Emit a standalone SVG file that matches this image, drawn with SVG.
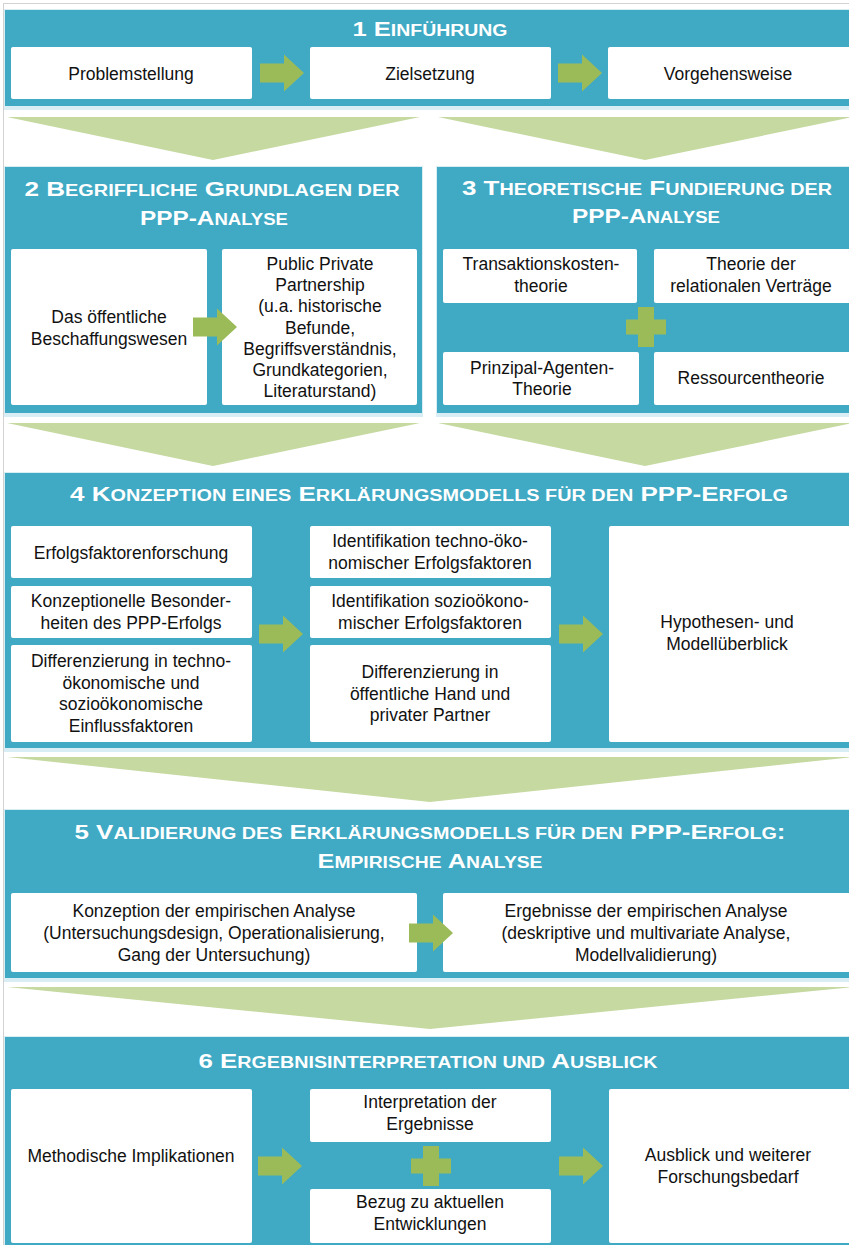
<svg xmlns="http://www.w3.org/2000/svg" xmlns:xlink="http://www.w3.org/1999/xlink" width="849" height="1245" viewBox="0 0 849 1245">
<style>
.sec{fill:#40a9c4}
.glow{fill:#d9eef4}
.box{fill:#ffffff}
.chev{fill:#c5d9a0}
.arr{fill:#9bbb59}
.t{font-family:"Liberation Sans",Arial,sans-serif;font-size:17.5px;fill:#111111;text-anchor:middle}
.h{font-family:"Liberation Sans",Arial,sans-serif;font-weight:bold;font-size:21px;fill:#ffffff;text-anchor:middle}
.sc{font-size:16px}
</style>
<defs>
<path id="arrow" d="M0,-9.5 H24 V-18.5 L44,0 L24,18.5 V9.5 H0 Z"/>
<path id="plus" d="M-8,-20 H8 V-7.5 H20 V7.5 H8 V20 H-8 V7.5 H-20 V-7.5 H-8 Z"/>
</defs>
<rect x="0" y="0" width="849" height="1245" fill="#ffffff"/>
<rect x="3.5" y="3.5" width="860" height="1260" fill="none" stroke="#d2d2d2" stroke-width="1"/>

<g id="sec1">
<rect class="glow" x="4" y="9" width="850" height="101"/>
<rect class="sec" x="5" y="10" width="848" height="96"/>
<text class="h" x="430" y="36" textLength="155" lengthAdjust="spacingAndGlyphs">1 E<tspan class="sc">INFÜHRUNG</tspan></text>
<g id="n-problemstellung"><rect class="box" x="11" y="47" width="241" height="52" rx="2"/><text class="t" x="131" y="80">Problemstellung</text></g>
<g id="n-zielsetzung"><rect class="box" x="310" y="47" width="241" height="52" rx="2"/><text class="t" x="430" y="80">Zielsetzung</text></g>
<g id="n-vorgehensweise"><rect class="box" x="608" y="47" width="245" height="52" rx="2"/><text class="t" x="728" y="80">Vorgehensweise</text></g>
</g>

<g id="sec2">
<rect class="glow" x="4" y="166" width="419" height="251"/>
<rect class="sec" x="5" y="167" width="417" height="246"/>
<text class="h" x="212" y="196" textLength="375" lengthAdjust="spacingAndGlyphs">2 B<tspan class="sc">EGRIFFLICHE</tspan>  G<tspan class="sc">RUNDLAGEN DER</tspan></text>
<text class="h" x="214" y="225" textLength="148" lengthAdjust="spacingAndGlyphs">PPP-A<tspan class="sc">NALYSE</tspan></text>
<g id="n-beschaffung"><rect class="box" x="11" y="249" width="196" height="156" rx="2"/><text class="t" x="109" y="323">Das öffentliche</text><text class="t" x="109" y="345">Beschaffungswesen</text></g>
<g id="n-ppp"><rect class="box" x="222" y="249" width="195" height="156" rx="2"/>
<text class="t" x="320" y="270">Public Private</text>
<text class="t" x="320" y="291.2">Partnership</text>
<text class="t" x="320" y="312.4">(u.a. historische</text>
<text class="t" x="320" y="333.6">Befunde,</text>
<text class="t" x="320" y="354.8">Begriffsverständnis,</text>
<text class="t" x="320" y="376">Grundkategorien,</text>
<text class="t" x="320" y="397.2">Literaturstand)</text></g>
</g>

<g id="sec3">
<rect class="glow" x="436" y="166" width="418" height="251"/>
<rect class="sec" x="437" y="167" width="416" height="246"/>
<text class="h" x="647" y="195" textLength="370" lengthAdjust="spacingAndGlyphs">3 T<tspan class="sc">HEORETISCHE</tspan> F<tspan class="sc">UNDIERUNG DER</tspan></text>
<text class="h" x="646" y="223" textLength="148" lengthAdjust="spacingAndGlyphs">PPP-A<tspan class="sc">NALYSE</tspan></text>
<g id="n-transaktion"><rect class="box" x="443" y="249" width="194" height="54" rx="2"/><text class="t" x="541" y="270">Transaktionskosten-</text><text class="t" x="541" y="292">theorie</text></g>
<g id="n-relational"><rect class="box" x="654" y="249" width="199" height="54" rx="2"/><text class="t" x="751" y="270">Theorie der</text><text class="t" x="751" y="292">relationalen Verträge</text></g>
<g id="n-prinzipal"><rect class="box" x="443" y="352" width="196" height="53" rx="2"/><text class="t" x="542" y="374">Prinzipal-Agenten-</text><text class="t" x="542" y="395">Theorie</text></g>
<g id="n-ressource"><rect class="box" x="654" y="352" width="199" height="53" rx="2"/><text class="t" x="751" y="384">Ressourcentheorie</text></g>
</g>

<g id="sec4">
<rect class="glow" x="4" y="472" width="850" height="280"/>
<rect class="sec" x="5" y="473" width="848" height="275"/>
<text class="h" x="429" y="501" textLength="718" lengthAdjust="spacingAndGlyphs">4 K<tspan class="sc">ONZEPTION  EINES</tspan>  E<tspan class="sc">RKLÄRUNGSMODELLS  FÜR  DEN</tspan>  PPP-E<tspan class="sc">RFOLG</tspan></text>
<g id="n-erfolgsfaktoren"><rect class="box" x="11" y="526" width="241" height="52" rx="2"/><text class="t" x="131" y="559">Erfolgsfaktorenforschung</text></g>
<g id="n-konzeptionelle"><rect class="box" x="11" y="586" width="241" height="52" rx="2"/><text class="t" x="131" y="607">Konzeptionelle Besonder-</text><text class="t" x="131" y="628.5">heiten des PPP-Erfolgs</text></g>
<g id="n-differenzierung1"><rect class="box" x="11" y="645" width="241" height="97" rx="2"/>
<text class="t" x="131" y="667">Differenzierung in techno-</text>
<text class="t" x="131" y="688.5">ökonomische und</text>
<text class="t" x="131" y="710">sozioökonomische</text>
<text class="t" x="131" y="731.5">Einflussfaktoren</text></g>
<g id="n-techno"><rect class="box" x="310" y="526" width="241" height="52" rx="2"/><text class="t" x="430" y="547">Identifikation techno-öko-</text><text class="t" x="430" y="568.5">nomischer Erfolgsfaktoren</text></g>
<g id="n-sozio"><rect class="box" x="310" y="586" width="241" height="52" rx="2"/><text class="t" x="430" y="607">Identifikation sozioökono-</text><text class="t" x="430" y="628.5">mischer Erfolgsfaktoren</text></g>
<g id="n-differenzierung2"><rect class="box" x="310" y="645" width="241" height="97" rx="2"/>
<text class="t" x="430" y="678">Differenzierung in</text>
<text class="t" x="430" y="699.5">öffentliche Hand und</text>
<text class="t" x="430" y="721">privater Partner</text></g>
<g id="n-hypothesen"><rect class="box" x="609" y="526" width="244" height="216" rx="2"/><text class="t" x="727" y="628">Hypothesen- und</text><text class="t" x="727" y="650">Modellüberblick</text></g>
</g>

<g id="sec5">
<rect class="glow" x="4" y="809" width="850" height="173"/>
<rect class="sec" x="5" y="810" width="848" height="168"/>
<text class="h" x="430" y="839" textLength="711" lengthAdjust="spacingAndGlyphs">5 V<tspan class="sc">ALIDIERUNG  DES</tspan>  E<tspan class="sc">RKLÄRUNGSMODELLS  FÜR  DEN</tspan>  PPP-E<tspan class="sc">RFOLG</tspan>:</text>
<text class="h" x="430" y="868" textLength="225" lengthAdjust="spacingAndGlyphs">E<tspan class="sc">MPIRISCHE</tspan>  A<tspan class="sc">NALYSE</tspan></text>
<g id="n-konzeption-emp"><rect class="box" x="11" y="893" width="406" height="79" rx="2"/>
<text class="t" x="214" y="917">Konzeption der empirischen Analyse</text>
<text class="t" x="214" y="939">(Untersuchungsdesign, Operationalisierung,</text>
<text class="t" x="214" y="960.5">Gang der Untersuchung)</text></g>
<g id="n-ergebnisse-emp"><rect class="box" x="443" y="893" width="410" height="79" rx="2"/>
<text class="t" x="646" y="917">Ergebnisse der empirischen Analyse</text>
<text class="t" x="646" y="939">(deskriptive und multivariate Analyse,</text>
<text class="t" x="646" y="960.5">Modellvalidierung)</text></g>
</g>

<g id="sec6">
<rect class="glow" x="4" y="1036" width="850" height="215"/>
<rect class="sec" x="5" y="1037" width="848" height="213"/>
<text class="h" x="428" y="1068" textLength="459" lengthAdjust="spacingAndGlyphs">6 E<tspan class="sc">RGEBNISINTERPRETATION  UND</tspan>  A<tspan class="sc">USBLICK</tspan></text>
<g id="n-methodische"><rect class="box" x="11" y="1089" width="241" height="154" rx="2"/><text class="t" x="131" y="1162">Methodische Implikationen</text></g>
<g id="n-interpretation"><rect class="box" x="310" y="1089" width="241" height="53" rx="2"/><text class="t" x="430" y="1108">Interpretation der</text><text class="t" x="430" y="1130">Ergebnisse</text></g>
<g id="n-bezug"><rect class="box" x="310" y="1189" width="241" height="54" rx="2"/><text class="t" x="430" y="1208">Bezug zu aktuellen</text><text class="t" x="430" y="1230">Entwicklungen</text></g>
<g id="n-ausblick"><rect class="box" x="609" y="1089" width="244" height="154" rx="2"/><text class="t" x="728" y="1161">Ausblick und weiterer</text><text class="t" x="728" y="1183">Forschungsbedarf</text></g>
</g>

<g id="connectors">
<polygon class="chev" points="7,117 420,117 213,160"/>
<polygon class="chev" points="438,117 853,117 645,160"/>
<polygon class="chev" points="7,423 420,423 213,466"/>
<polygon class="chev" points="438,423 853,423 645,466"/>
<polygon class="chev" points="7,757 853,757 430,802"/>
<polygon class="chev" points="7,987 853,987 430,1029"/>
<use xlink:href="#arrow" class="arr" x="260" y="73"/>
<use xlink:href="#arrow" class="arr" x="558" y="73"/>
<use xlink:href="#arrow" class="arr" x="193" y="327"/>
<use xlink:href="#plus" class="arr" x="646" y="327"/>
<use xlink:href="#arrow" class="arr" x="259" y="634"/>
<use xlink:href="#arrow" class="arr" x="559" y="634"/>
<use xlink:href="#arrow" class="arr" x="409" y="933"/>
<use xlink:href="#arrow" class="arr" x="258" y="1166"/>
<use xlink:href="#plus" class="arr" x="431" y="1166"/>
<use xlink:href="#arrow" class="arr" x="559" y="1166"/>
</g>
</svg>
